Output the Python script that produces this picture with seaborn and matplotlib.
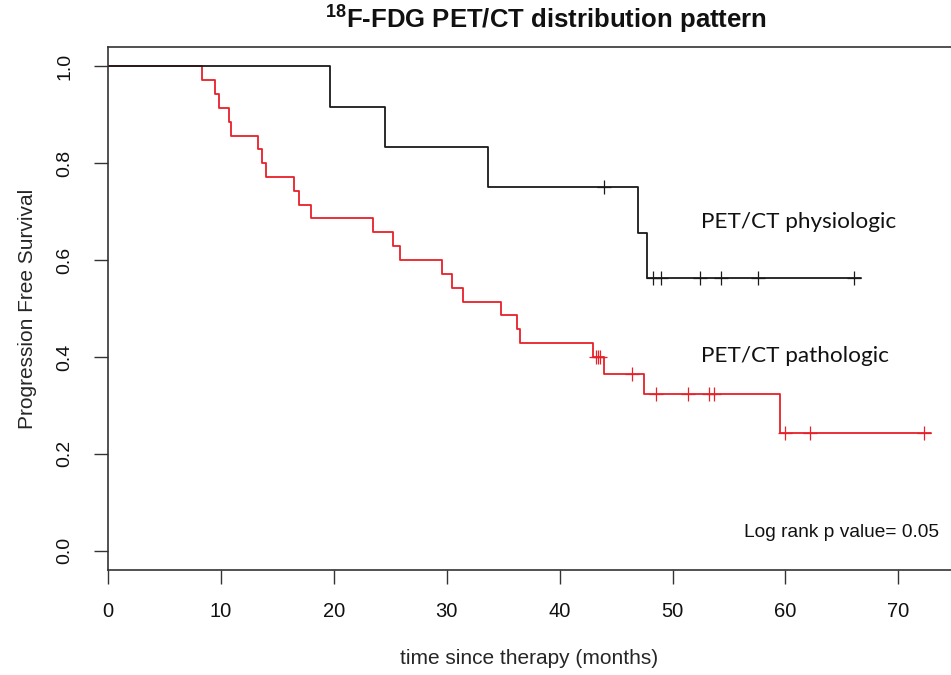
import matplotlib
matplotlib.use("Agg")
import matplotlib.pyplot as plt
import seaborn as sns
import pandas as pd

# ---- data ----
phys_event_times = [19.7, 24.5, 33.7, 46.9, 47.7]
phys_event_surv = [0.917, 0.833, 0.750, 0.656, 0.563]
phys_censor_times = [43.9, 48.3, 49.0, 52.4, 54.3, 57.6, 66.1]
phys_censor_surv = [0.750, 0.563, 0.563, 0.563, 0.563, 0.563, 0.563]

path_event_times = [8.3, 9.5, 9.8, 10.7, 10.9, 13.3, 13.6, 14.0, 16.5, 16.9, 18.0,
                    23.5, 25.2, 25.9, 29.6, 30.5, 31.4, 34.8, 36.2, 36.5,
                    43.0, 43.9, 47.5, 59.5]
path_event_surv = [0.971, 0.943, 0.914, 0.886, 0.857, 0.829, 0.800, 0.771, 0.743, 0.714, 0.686,
                   0.657, 0.629, 0.600, 0.571, 0.543, 0.514, 0.486, 0.457, 0.429,
                   0.400, 0.364, 0.323, 0.242]
path_censor_times = [43.2, 43.4, 43.6, 46.4, 48.5, 51.4, 53.2, 53.7, 60.0, 62.2, 72.3]
path_censor_surv = [0.400, 0.400, 0.400, 0.364, 0.323, 0.323, 0.323, 0.323, 0.242, 0.242, 0.242]

x_ticks = [0, 10, 20, 30, 40, 50, 60, 70]
y_ticks = [0.0, 0.2, 0.4, 0.6, 0.8, 1.0]
y_tick_labels = ["0.0", "0.2", "0.4", "0.6", "0.8", "1.0"]

title_text = r"$^{\mathbf{18}}$F-FDG PET/CT distribution pattern"
label_phys = "PET/CT physiologic"
label_path = "PET/CT pathologic"
logrank_text = "Log rank p value= 0.05"
xlabel = "time since therapy (months)"
ylabel = "Progression Free Survival"

BLACK = "#1a1a1a"
RED = "#e8202a"

sns.set_theme(style="white")
plt.rcParams["font.family"] = ["Liberation Sans", "DejaVu Sans"]
plt.rcParams["mathtext.fontset"] = "custom"
plt.rcParams["mathtext.rm"] = "Liberation Sans"
plt.rcParams["mathtext.bf"] = "Liberation Sans:bold"

fig = plt.figure(figsize=(9.51, 6.75), dpi=100)
ax = fig.add_axes([108 / 951, 105 / 675, 1 - 108 / 951, 523 / 675])


def step_frame(ev_t, ev_s, last_t):
    t = [0.0] + list(ev_t) + [last_t]
    s = [1.0] + list(ev_s) + [ev_s[-1]]
    return pd.DataFrame({"time": t, "surv": s})


phys_df = step_frame(phys_event_times, phys_event_surv, phys_censor_times[-1] + 0.6)
path_df = step_frame(path_event_times, path_event_surv, path_censor_times[-1] + 0.6)

sns.lineplot(data=path_df, x="time", y="surv", drawstyle="steps-post", estimator=None,
             sort=False, color=RED, linewidth=1.3, ax=ax)
sns.lineplot(data=phys_df, x="time", y="surv", drawstyle="steps-post", estimator=None,
             sort=False, color=BLACK, linewidth=1.3, ax=ax)

sns.scatterplot(x=path_censor_times, y=path_censor_surv, marker="+", s=110,
                color=RED, linewidth=0.9, ax=ax, zorder=3)
sns.scatterplot(x=phys_censor_times, y=phys_censor_surv, marker="+", s=110,
                color=BLACK, linewidth=0.9, ax=ax, zorder=3)

ax.set_xlim(0, (951 - 108) / 11.29)
ax.set_ylim(-0.04, 1.04)
ax.set_xticks(x_ticks)
ax.set_yticks(y_ticks)
ax.set_yticklabels(y_tick_labels)

for lab in ax.get_xticklabels():
    lab.set_fontsize(14.5)
for lab in ax.get_yticklabels():
    lab.set_rotation(90)
    lab.set_va("center")
    lab.set_fontsize(14)

ax.tick_params(axis="both", direction="out", length=10, width=1.0, color="#333333",
               labelcolor="#111111", bottom=True, left=True)
ax.tick_params(axis="x", pad=13)
ax.tick_params(axis="y", pad=15)

for side in ["left", "bottom", "top"]:
    ax.spines[side].set_color("#333333")
    ax.spines[side].set_linewidth(1.2)
ax.spines["right"].set_visible(False)

ax.set_xlabel(xlabel, fontsize=15, labelpad=20)
ax.set_ylabel(ylabel, fontsize=15, labelpad=14)

ax.text(52.5, 0.667, label_phys, family=["Lato", "DejaVu Sans"], fontsize=16.2,
        ha="left", va="baseline", color="#111111")
ax.text(52.5, 0.389, label_path, family=["Lato", "DejaVu Sans"], fontsize=16.2,
        ha="left", va="baseline", color="#111111")
ax.text(73.6, 0.029, logrank_text, fontsize=13.8, ha="right", va="baseline", color="#111111")

fig.text(546 / 951, 1 - 28 / 675, title_text, fontsize=18.5, fontweight="bold",
         ha="center", va="baseline", color="#111111")

fig.savefig("out.png", dpi=100)
